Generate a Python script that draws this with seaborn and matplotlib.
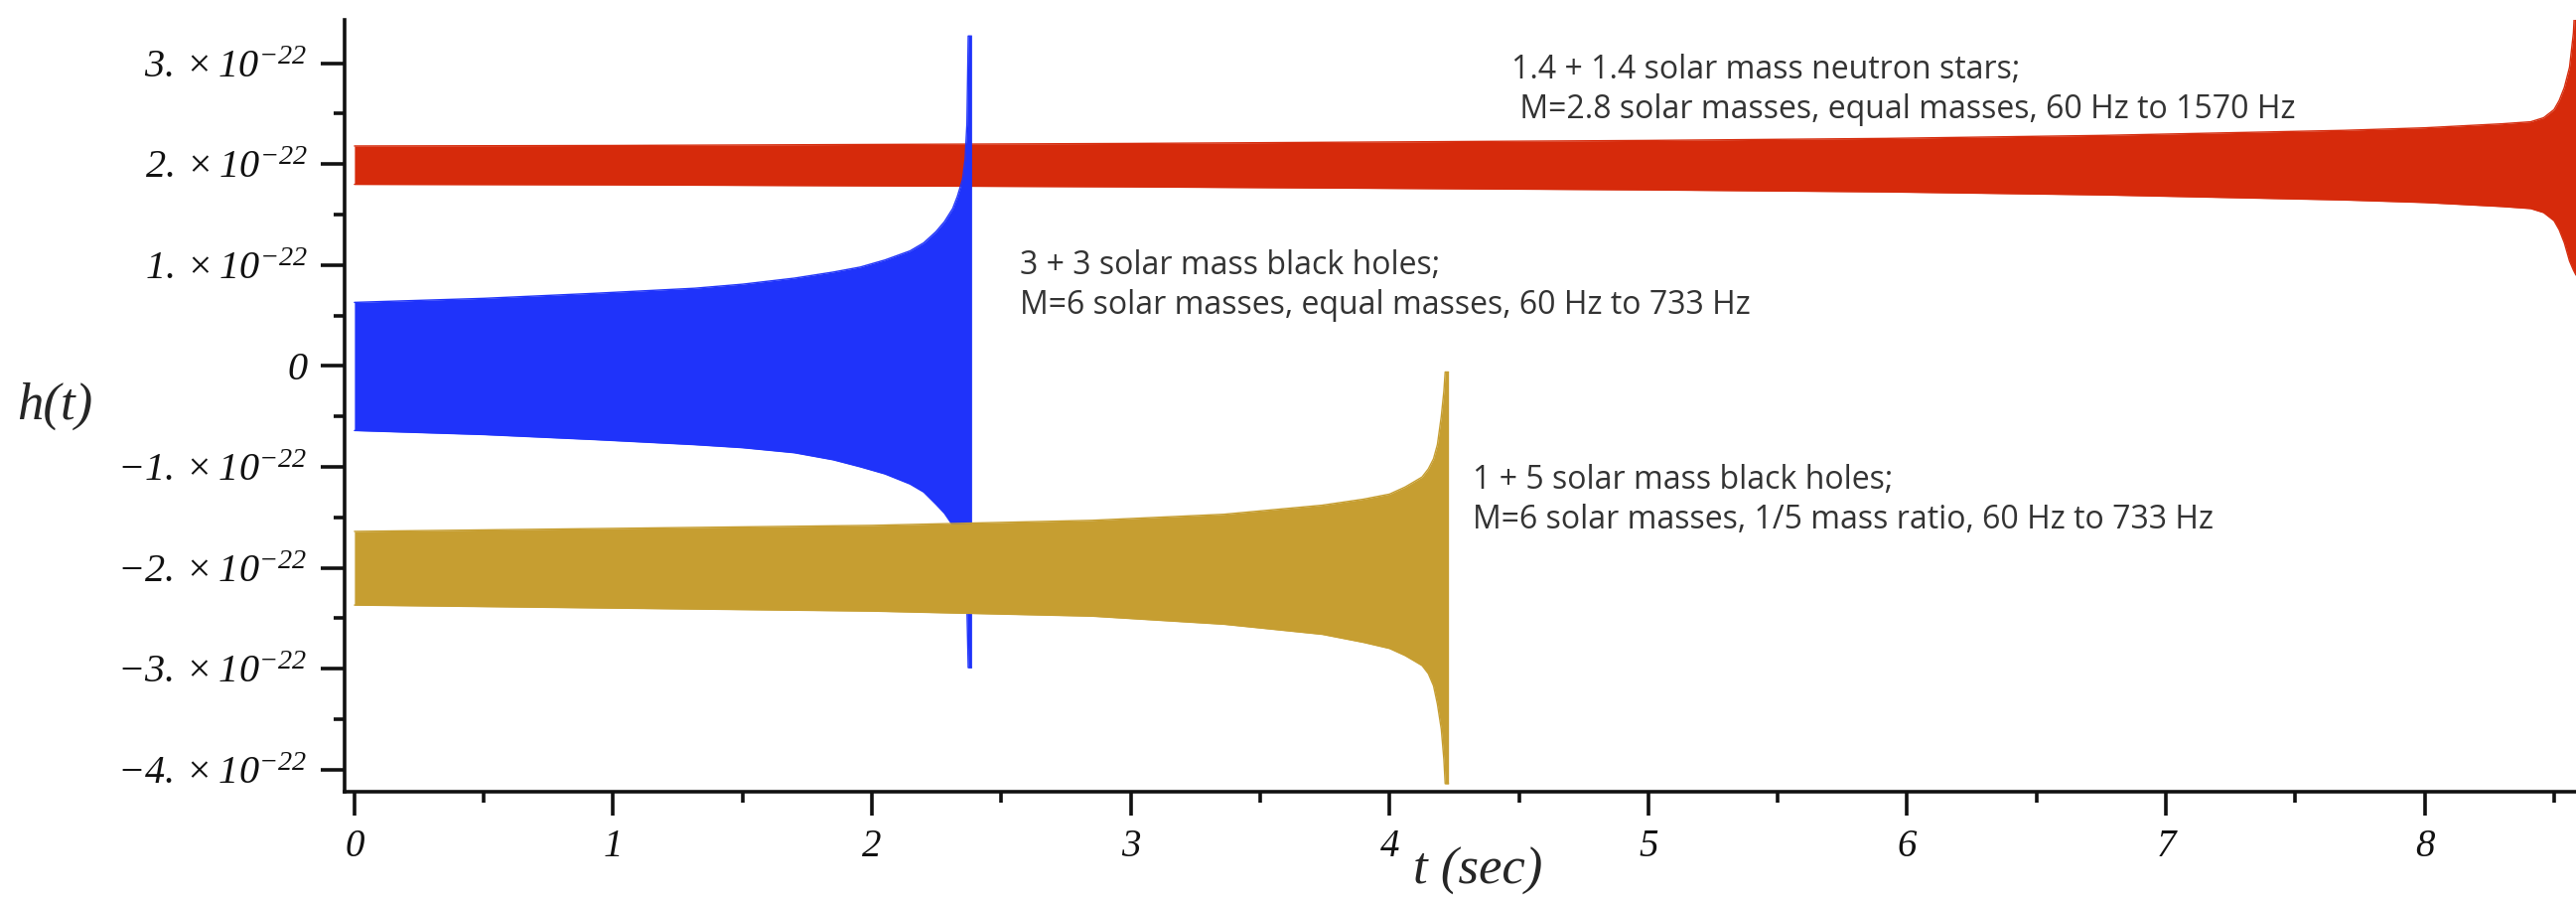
import matplotlib
matplotlib.use("Agg")
import matplotlib.pyplot as plt
import seaborn as sns
import pandas as pd

# envelopes of the three chirps (units of 1e-22)
ns_t = [0, 1, 2, 3, 4, 5, 5.92, 6.76, 7.69, 8.0, 8.3, 8.41, 8.46, 8.50, 8.52, 8.54,
        8.56, 8.575, 8.585]
ns_upper = [2.18, 2.185, 2.195, 2.205, 2.22, 2.235, 2.255, 2.285, 2.335, 2.36, 2.40, 2.42,
            2.46, 2.54, 2.63, 2.76, 2.96, 3.3, 3.8]
ns_lower = [1.80, 1.795, 1.785, 1.775, 1.76, 1.745, 1.725, 1.695, 1.645, 1.62, 1.58, 1.56,
            1.52, 1.44, 1.35, 1.22, 1.04, 0.95, 0.9]

bh33_t = [0, 0.5, 0.93, 1.315, 1.5, 1.70, 1.85, 1.955, 2.05, 2.147, 2.2, 2.247, 2.28,
          2.312, 2.33, 2.35, 2.36, 2.367, 2.372, 2.385]
bh33_upper = [0.63, 0.67, 0.72, 0.77, 0.81, 0.87, 0.93, 0.98, 1.05, 1.14, 1.22, 1.33, 1.43,
              1.56, 1.68, 1.85, 2.05, 2.4, 3.27, 3.27]
bh33_lower = [-0.64, -0.68, -0.73, -0.78, -0.81, -0.86, -0.93, -1.0, -1.07, -1.17, -1.25,
              -1.37, -1.46, -1.58, -1.70, -1.9, -2.1, -2.4, -2.99, -2.99]

bh15_t = [0, 1, 2, 2.85, 3.36, 3.74, 3.9, 4.0, 4.06, 4.10, 4.126, 4.15, 4.17, 4.185, 4.20,
          4.21, 4.215, 4.228]
bh15_upper = [-1.64, -1.61, -1.58, -1.53, -1.47, -1.38, -1.32, -1.27, -1.20, -1.14, -1.10,
              -1.02, -0.92, -0.78, -0.5, -0.25, -0.06, -0.06]
bh15_lower = [-2.37, -2.40, -2.43, -2.48, -2.56, -2.66, -2.74, -2.80, -2.87, -2.93, -2.97,
              -3.05, -3.17, -3.35, -3.6, -3.9, -4.14, -4.14]

labels = [
    "1.4 + 1.4 solar mass neutron stars;\n M=2.8 solar masses, equal masses, 60 Hz to 1570 Hz",
    "3 + 3 solar mass black holes;\nM=6 solar masses, equal masses, 60 Hz to 733 Hz",
    "1 + 5 solar mass black holes;\nM=6 solar masses, 1/5 mass ratio, 60 Hz to 733 Hz",
]
label_pos = [(4.47, 2.74), (2.57, 0.80), (4.32, -1.33)]

colors = ["#D62A0B", "#1F33FA", "#C69E31"]

y_ticks = [-4, -3, -2, -1, 0, 1, 2, 3]
x_ticks = [0, 1, 2, 3, 4, 5, 6, 7, 8]

sns.set_style("ticks")
plt.rcParams["mathtext.fontset"] = "custom"
plt.rcParams["mathtext.rm"] = "Liberation Serif:italic"
plt.rcParams["mathtext.it"] = "Liberation Serif:italic"
plt.rcParams["font.family"] = ["Liberation Serif", "DejaVu Serif"]

fig = plt.figure(figsize=(25.94, 9.06), dpi=100)
ax = fig.add_axes([347 / 2594, 109 / 906, 1 - 347 / 2594, (797 - 20) / 906])

series = [
    (ns_t, ns_upper, ns_lower),
    (bh33_t, bh33_upper, bh33_lower),
    (bh15_t, bh15_upper, bh15_lower),
]

for i, (t, up, lo) in enumerate(series):
    df = pd.DataFrame({"t": t, "up": up, "lo": lo})
    ax.fill_between(df["t"], df["lo"], df["up"], color=colors[i], linewidth=0, zorder=2 + i)
    sns.lineplot(data=df, x="t", y="up", color=colors[i], linewidth=1, estimator=None,
                 ax=ax, zorder=2 + i)
    sns.lineplot(data=df, x="t", y="lo", color=colors[i], linewidth=1, estimator=None,
                 ax=ax, zorder=2 + i)

for txt, (x, y) in zip(labels, label_pos):
    ax.text(x, y, txt, fontsize=23, family="Open Sans", color="#333333",
            va="center", ha="left", linespacing=1.28, zorder=10)

ax.set_xlim(-0.038, 8.585)
ax.set_ylim(-4.22, 3.43)

ax.set_yticks(y_ticks)
ax.set_yticklabels(["0" if v == 0 else rf"${v}.\times10^{{-22}}$" for v in y_ticks])
ax.set_yticks([v + 0.5 for v in y_ticks[:-1]], minor=True)
ax.set_xticks(x_ticks)
ax.set_xticklabels([str(v) for v in x_ticks])
ax.set_xticks([v + 0.5 for v in x_ticks], minor=True)

ax.tick_params(axis="y", which="major", labelsize=29)
ax.tick_params(axis="x", which="major", labelsize=28)
ax.tick_params(axis="both", which="major", direction="out", length=17, width=2.6,
               pad=10, colors="#111111")
ax.tick_params(axis="both", which="minor", direction="out", length=8, width=2.6,
               colors="#111111")
for lab in ax.get_xticklabels() + ax.get_yticklabels():
    lab.set_fontstyle("italic")

for s in ["top", "right"]:
    ax.spines[s].set_visible(False)
ax.spines["left"].set_linewidth(2.6)
ax.spines["bottom"].set_linewidth(2.6)
ax.spines["left"].set_color("#111111")
ax.spines["bottom"].set_color("#111111")

ax.set_xlabel("t (sec)", fontsize=38, fontstyle="italic", va="center")
ax.set_ylabel("h(t)", fontsize=38, fontstyle="italic", rotation=0, va="center",
              ha="center")
ax.yaxis.set_label_coords(-0.130, 0.50)
ax.xaxis.set_label_coords(0.508, -0.103)

fig.savefig("out.png", dpi=100)
